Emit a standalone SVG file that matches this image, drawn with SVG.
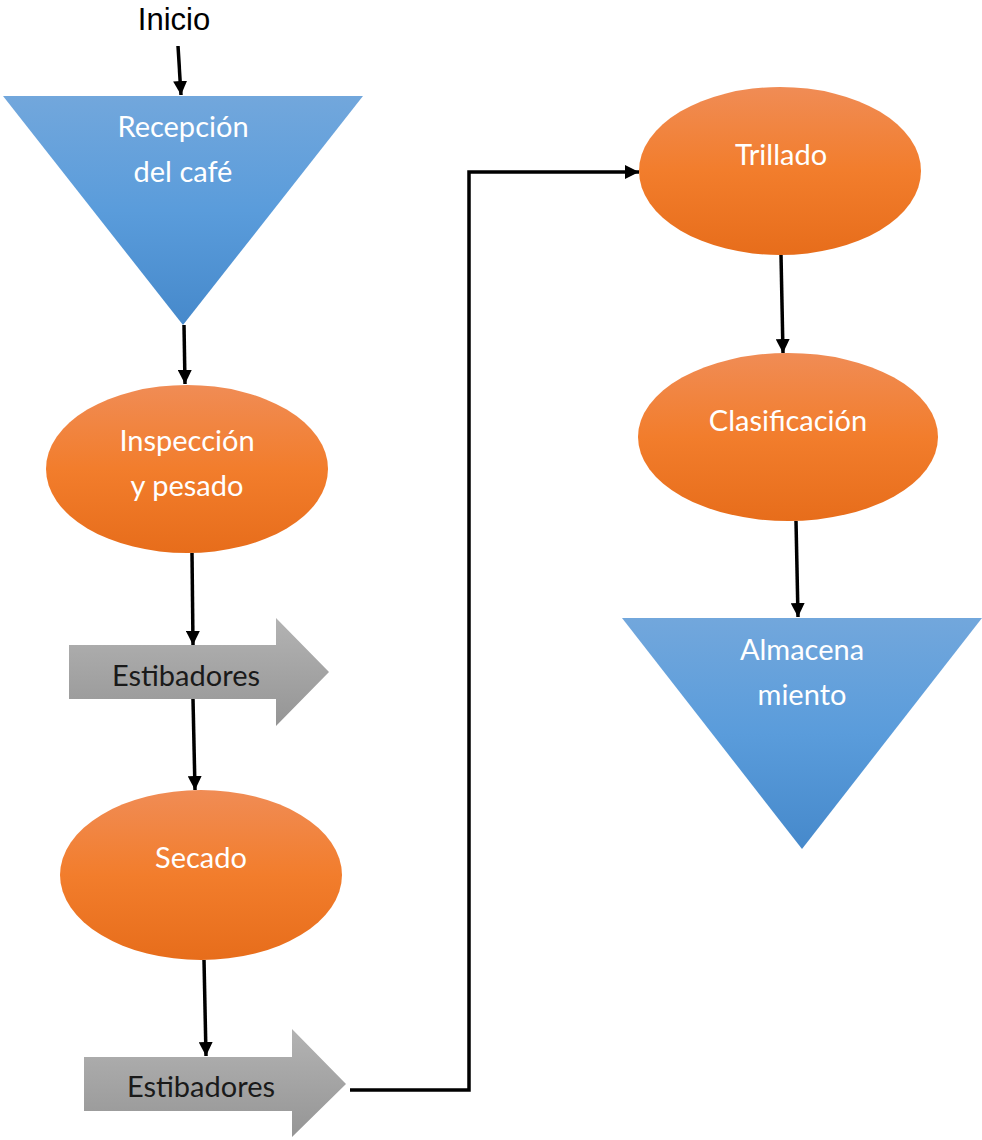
<svg xmlns="http://www.w3.org/2000/svg" width="982" height="1140" viewBox="0 0 982 1140">
<defs>
<linearGradient id="gBlue" x1="0" y1="0" x2="0" y2="1"><stop offset="0" stop-color="#72a7dc"/><stop offset="0.5" stop-color="#5a9cdb"/><stop offset="1" stop-color="#4689cb"/></linearGradient>
<linearGradient id="gOrange" x1="0" y1="0" x2="0" y2="1"><stop offset="0" stop-color="#f08c55"/><stop offset="0.5" stop-color="#f27d2c"/><stop offset="1" stop-color="#e76d1b"/></linearGradient>
<linearGradient id="gGray" x1="0" y1="0" x2="0" y2="1"><stop offset="0" stop-color="#b3b3b3"/><stop offset="1" stop-color="#959595"/></linearGradient>
<marker id="ah" viewBox="0 0 10 10" refX="10" refY="5" markerWidth="4" markerHeight="4" orient="auto" markerUnits="strokeWidth"><path d="M0,0 L10,5 L0,10 z" fill="#000"/></marker>
</defs>
<style>
.lbl{font-family:Lato,"Open Sans","Noto Sans",sans-serif;font-size:29px;fill:#fff;text-anchor:middle}
.dk{fill:#1a1a1a}
.ar{font-family:"Liberation Sans",Arial,sans-serif;font-size:31px;fill:#000;text-anchor:middle}
.c{fill:none;stroke:#000;stroke-width:3.5;marker-end:url(#ah)}
</style>
<text class="ar" x="174" y="30">Inicio</text>
<g id="recepcion"><polygon points="3,96 363,96 183,325" fill="url(#gBlue)"/><text class="lbl" x="183" y="137">Recepción</text><text class="lbl" x="183" y="182">del café</text></g>
<g id="inspeccion"><ellipse cx="187" cy="469" rx="141" ry="84" fill="url(#gOrange)"/><text class="lbl" x="187" y="451">Inspección</text><text class="lbl" x="187" y="496">y pesado</text></g>
<g id="estibadores1"><polygon points="69,645 276,645 276,618 329,672 276,726 276,699 69,699" fill="url(#gGray)"/><text class="lbl dk" x="186" y="686">Estibadores</text></g>
<g id="secado"><ellipse cx="201" cy="875" rx="141" ry="85" fill="url(#gOrange)"/><text class="lbl" x="201" y="868">Secado</text></g>
<g id="estibadores2"><polygon points="84,1057 292,1057 292,1029 346,1084 292,1137 292,1111 84,1111" fill="url(#gGray)"/><text class="lbl dk" x="201" y="1097">Estibadores</text></g>
<g id="trillado"><ellipse cx="780" cy="171" rx="141" ry="84" fill="url(#gOrange)"/><text class="lbl" x="781" y="165">Trillado</text></g>
<g id="clasificacion"><ellipse cx="788" cy="437" rx="150" ry="84" fill="url(#gOrange)"/><text class="lbl" x="788" y="431">Clasificación</text></g>
<g id="almacenamiento"><polygon points="622,618 982,618 802,849" fill="url(#gBlue)"/><text class="lbl" x="802" y="660">Almacena</text><text class="lbl" x="802" y="705">miento</text></g>
<g id="connectors">
<line class="c" x1="178" y1="46" x2="181" y2="95"/>
<line class="c" x1="184" y1="325" x2="185" y2="384"/>
<line class="c" x1="192" y1="553" x2="193" y2="645"/>
<line class="c" x1="193" y1="699" x2="195" y2="790"/>
<line class="c" x1="204" y1="960" x2="206" y2="1056"/>
<polyline class="c" points="350,1090 469,1090 469,172 639,172"/>
<line class="c" x1="781" y1="255" x2="783" y2="353"/>
<line class="c" x1="796" y1="521" x2="798" y2="617"/>
</g>
</svg>
